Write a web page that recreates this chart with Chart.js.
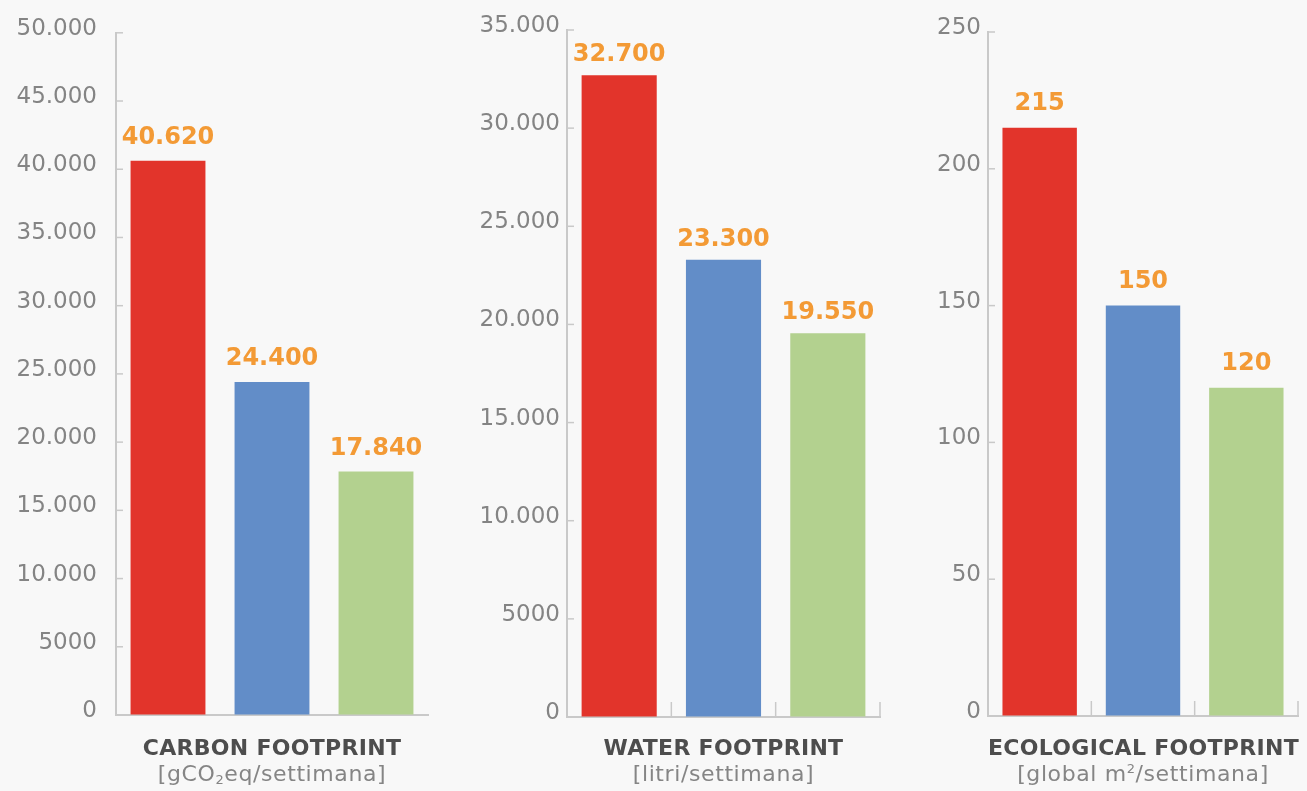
<!DOCTYPE html>
<html>
<head>
<meta charset="utf-8">
<script src="https://cdn.jsdelivr.net/npm/chart.js@4/dist/chart.umd.min.js"></script>
<style>
  html, body { margin: 0; padding: 0; background: #f8f8f8; }
  body { width: 1307px; height: 791px; position: relative; overflow: hidden; font-family: 'DejaVu Sans', sans-serif; }
  .cv { position: absolute; top: 0; }
  .cap { position: absolute; text-align: center; white-space: nowrap; }
  .t1 { font-weight: bold; font-size: 22px; line-height: 22px; color: #4d4d4d; letter-spacing: 0.3px; }
  .t2 { font-weight: normal; font-size: 22px; line-height: 22px; color: #858585; letter-spacing: 0.6px; }
  sub { font-size: 13px; vertical-align: -3px; line-height: 0; }
  sup { font-size: 13px; vertical-align: 8px; line-height: 0; }
</style>
</head>
<body>
<div class="cv" style="left:0;width:440px;height:791px"><canvas id="c1"></canvas></div>
<div class="cv" style="left:440px;width:450px;height:791px"><canvas id="c2"></canvas></div>
<div class="cv" style="left:880px;width:427px;height:791px"><canvas id="c3"></canvas></div>

<div class="cap t1" style="left:116px;width:312px;top:737px">CARBON FOOTPRINT</div>
<div class="cap t2" style="left:116px;width:312px;top:763px">[gCO<sub>2</sub>eq/settimana]</div>
<div class="cap t1" style="left:567px;width:313px;top:737px">WATER FOOTPRINT</div>
<div class="cap t2" style="left:567px;width:313px;top:763px">[litri/settimana]</div>
<div class="cap t1" style="left:988px;width:310px;top:737px">ECOLOGICAL FOOTPRINT</div>
<div class="cap t2" style="left:988px;width:310px;top:763px">[global m<sup>2</sup>/settimana]</div>

<script>
// ---- data ----
const categories = ['A', 'B', 'C'];
const carbonValues = [40620, 24400, 17840];
const waterValues = [32700, 23300, 19550];
const ecoValues = [215, 150, 120];

const carbonTickLabels = ['0', '5000', '10.000', '15.000', '20.000', '25.000', '30.000', '35.000', '40.000', '45.000', '50.000'];
const waterTickLabels = ['0', '5000', '10.000', '15.000', '20.000', '25.000', '30.000', '35.000'];
const ecoTickLabels = ['0', '50', '100', '150', '200', '250'];

const barColors = ['#e2342b', '#628dc8', '#b3d18f'];

// ---- helpers ----
function fmt(v) {
  const s = String(v);
  return v >= 10000 ? s.replace(/\B(?=(\d{3})+(?!\d))/g, '.') : s;
}

const innerMarks = {
  id: 'innerMarks',
  afterDatasetsDraw(chart, args, opts) {
    const ctx = chart.ctx;
    const y = chart.scales.y, x = chart.scales.x;
    const area = chart.chartArea;
    ctx.save();
    ctx.strokeStyle = '#c9c9c9';
    ctx.lineWidth = 1.5;
    // y ticks pointing inward
    y.ticks.forEach((t, i) => {
      const py = y.getPixelForTick(i);
      if (i === 0) return;
      ctx.beginPath();
      ctx.moveTo(area.left, py);
      ctx.lineTo(area.left + 7, py);
      ctx.stroke();
    });
    // category boundary marks pointing upward
    if (opts.xMarks) {
      const n = chart.data.labels.length;
      const half = (x.getPixelForValue(1) - x.getPixelForValue(0)) / 2;
      for (let i = 0; i < n; i++) {
        const px = x.getPixelForValue(i) + half;
        ctx.beginPath();
        ctx.moveTo(px, area.bottom);
        ctx.lineTo(px, area.bottom - 15);
        ctx.stroke();
      }
    }
    // value labels
    const meta = chart.getDatasetMeta(0);
    ctx.fillStyle = '#f39a35';
    ctx.font = 'bold 24px "DejaVu Sans"';
    ctx.textAlign = 'center';
    ctx.textBaseline = 'middle';
    meta.data.forEach((bar, i) => {
      const v = chart.data.datasets[0].data[i];
      ctx.fillText(fmt(v), bar.x, bar.y - opts.labelGap);
    });
    ctx.restore();
  }
};

function makeChart(id, values, max, step, tickLabels, o) {
  return new Chart(document.getElementById(id), {
    type: 'bar',
    data: {
      labels: categories,
      datasets: [{
        data: values,
        backgroundColor: barColors,
        borderWidth: 0,
        categoryPercentage: 1,
        barPercentage: 0.72
      }]
    },
    options: {
      responsive: true,
      maintainAspectRatio: false,
      animation: false,
      layout: { padding: { top: o.top, bottom: 791 - o.bottom, left: 0, right: o.right } },
      plugins: {
        legend: { display: false },
        tooltip: { enabled: false },
        innerMarks: { xMarks: o.xMarks, labelGap: o.labelGap }
      },
      scales: {
        x: {
          grid: { display: false, drawTicks: false },
          ticks: { display: false },
          border: { display: true, color: '#c9c9c9', width: 2 },
          afterFit(s) { s.height = 0; }
        },
        y: {
          min: 0, max: max,
          ticks: {
            stepSize: step,
            padding: o.labelPad,
            labelOffset: -4,
            color: '#848484',
            font: { family: 'DejaVu Sans', size: 23, weight: 'normal' },
            callback: (v, i) => tickLabels[i]
          },
          grid: { display: true, drawOnChartArea: false, drawTicks: false },
          border: { display: true, color: '#c9c9c9', width: 2 },
          afterFit(s) { s.width = o.axisW; }
        }
      }
    },
    plugins: [innerMarks]
  });
}

makeChart('c1', carbonValues, 50000, 5000, carbonTickLabels,
  { top: 30, bottom: 715, right: 12, axisW: 116, labelPad: 19, xMarks: false, labelGap: 23 });
makeChart('c2', waterValues, 35000, 5000, waterTickLabels,
  { top: 30, bottom: 717, right: 10, axisW: 127, labelPad: 7, xMarks: true, labelGap: 20 });
makeChart('c3', ecoValues, 250, 50, ecoTickLabels,
  { top: 32, bottom: 716, right: 9, axisW: 108, labelPad: 7, xMarks: true, labelGap: 24 });
</script>
</body>
</html>
